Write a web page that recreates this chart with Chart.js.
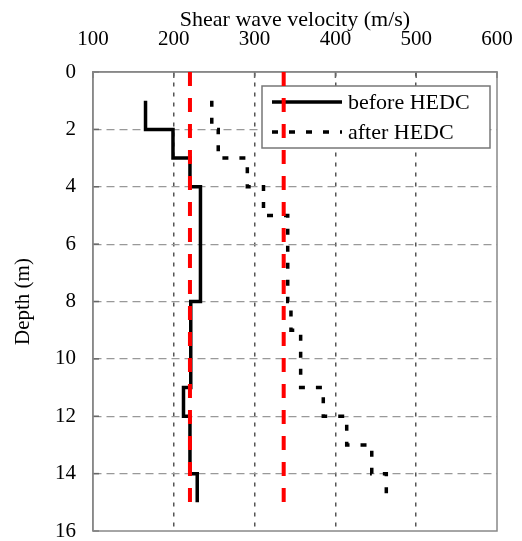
<!DOCTYPE html>
<html><head><meta charset="utf-8">
<script src="https://cdn.jsdelivr.net/npm/chart.js@4.4.0/dist/chart.umd.min.js"></script>
<style>html,body{margin:0;padding:0;background:#fff;} #wrap{width:522px;height:541px;position:relative;}</style>
</head><body><div id="wrap"><canvas id="c"></canvas></div>
<script>
// ---- data ----
const xTickValues = [100, 200, 300, 400, 500, 600];
const yTickValues = [0, 2, 4, 6, 8, 10, 12, 14, 16];
const beforeLabel = 'before HEDC';
const beforeTop = [1, 2, 3, 4, 8, 11, 12, 14];
const beforeBottom = [2, 3, 4, 8, 11, 12, 14, 15];
const beforeVs = [165, 199, 220, 233, 221, 212, 220, 229];
const afterLabel = 'after HEDC';
const afterTop = [1, 2, 3, 4, 5, 8, 9, 11, 12, 13, 14];
const afterBottom = [2, 3, 4, 5, 8, 9, 11, 12, 13, 14, 14.9];
const afterVs = [247, 255, 291, 311, 341, 345, 357, 385, 414, 445, 463];
const refVs = [220, 336];
const refDepthFrom = 0;
const refDepthTo = 15.4;

function stepProfile(tops, bottoms, vs) {
  const pts = [];
  for (let i = 0; i < vs.length; i++) {
    pts.push({x: vs[i], y: tops[i]});
    pts.push({x: vs[i], y: bottoms[i]});
  }
  return pts;
}

const SERIF = "'Liberation Serif', 'Times New Roman', serif";

const datasets = [];
refVs.forEach(v => datasets.push({
  label: 'ref ' + v,
  data: [{x: v, y: refDepthFrom}, {x: v, y: refDepthTo}],
  showLine: true, borderColor: '#ff0000', borderWidth: 4, borderDash: [14, 12],
  pointRadius: 0, order: 0, inLegend: false
}));
datasets.push({
  label: beforeLabel, data: stepProfile(beforeTop, beforeBottom, beforeVs),
  showLine: true, borderColor: '#000', borderWidth: 3.5, pointRadius: 0, order: 1, inLegend: true
});
datasets.push({
  label: afterLabel, data: stepProfile(afterTop, afterBottom, afterVs),
  showLine: true, borderColor: '#000', borderWidth: 3.5, borderDash: [6, 11], pointRadius: 0, order: 1, inLegend: true
});

const framePlugin = {
  id: 'frame',
  beforeDatasetsDraw(chart) {
    const {ctx, chartArea: a} = chart;
    const xs = chart.scales.x, ys = chart.scales.y;
    ctx.save();
    // inside tick marks
    ctx.strokeStyle = '#666'; ctx.lineWidth = 1.5; ctx.setLineDash([]);
    xTickValues.forEach(v => { const p = xs.getPixelForValue(v); ctx.beginPath(); ctx.moveTo(p, a.top); ctx.lineTo(p, a.top + 6); ctx.stroke(); });
    yTickValues.forEach(v => { const p = ys.getPixelForValue(v); ctx.beginPath(); ctx.moveTo(a.left, p); ctx.lineTo(a.left + 6, p); ctx.stroke(); });
    // frame
    ctx.strokeStyle = '#888'; ctx.lineWidth = 1.5;
    ctx.strokeRect(a.left, a.top, a.right - a.left, a.bottom - a.top);
    // legend box
    const bx = a.right - 235, by = a.top + 14, bw = 228, bh = 62;
    ctx.fillStyle = '#fff'; ctx.fillRect(bx, by, bw, bh);
    ctx.strokeStyle = '#777'; ctx.lineWidth = 1.5; ctx.strokeRect(bx, by, bw, bh);
    chart.data.datasets.filter(d => d.inLegend).forEach((d, i) => {
      const y = by + 16 + i * 30;
      ctx.beginPath(); ctx.setLineDash(d.borderDash || []); ctx.lineWidth = d.borderWidth; ctx.strokeStyle = d.borderColor;
      ctx.moveTo(bx + 10, y); ctx.lineTo(bx + 80, y); ctx.stroke();
      ctx.setLineDash([]);
      ctx.fillStyle = '#000'; ctx.font = '22px ' + SERIF; ctx.textBaseline = 'middle'; ctx.textAlign = 'left';
      ctx.fillText(d.label, bx + 86, y + 1);
    });
    ctx.restore();
  }
};

new Chart(document.getElementById('c'), {
  type: 'scatter',
  data: {datasets},
  options: {
    responsive: true, maintainAspectRatio: false, animation: false,
    layout: {padding: {left: 0, top: 0, right: 25, bottom: 10}},
    plugins: {legend: {display: false}, tooltip: {enabled: false}},
    scales: {
      x: {
        type: 'linear', position: 'top', min: 100, max: 600,
        afterBuildTicks: s => { s.ticks = xTickValues.map(v => ({value: v})); },
        afterFit: s => { s.height = 72; s.paddingLeft = 0; s.paddingRight = 0; },
        ticks: {color: '#000', padding: 22, font: {family: SERIF, size: 21, lineHeight: 1}},
        grid: {drawTicks: false, lineWidth: 1.5,
          color: c => (c.tick && (c.tick.value === 100 || c.tick.value === 600)) ? 'rgba(0,0,0,0)' : '#555'},
        border: {display: true, color: '#888', width: 1.5, dash: [4, 6]},
        title: {display: true, text: 'Shear wave velocity (m/s)', color: '#000',
          font: {family: SERIF, size: 22, lineHeight: 1}, padding: {top: 9, bottom: 0}}
      },
      y: {
        type: 'linear', reverse: true, min: 0, max: 16,
        afterBuildTicks: s => { s.ticks = yTickValues.map(v => ({value: v})); },
        afterFit: s => { s.width = 93; s.paddingTop = 0; s.paddingBottom = 0; },
        ticks: {color: '#000', padding: 17, font: {family: SERIF, size: 21, lineHeight: 1}},
        grid: {drawTicks: false, lineWidth: 1.2,
          color: c => (c.tick && (c.tick.value === 0 || c.tick.value === 16)) ? 'rgba(0,0,0,0)' : '#999'},
        border: {display: true, color: '#888', width: 1.5, dash: [8, 5]},
        title: {display: true, text: 'Depth (m)', color: '#000',
          font: {family: SERIF, size: 21, lineHeight: 1}, padding: {top: 13, bottom: 0}}
      }
    }
  },
  plugins: [framePlugin]
});
</script></body></html>
